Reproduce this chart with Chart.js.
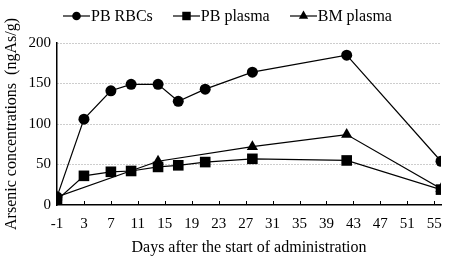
<!DOCTYPE html>
<html>
<head>
<meta charset="utf-8">
<script src="https://cdn.jsdelivr.net/npm/chart.js@4.4.0/dist/chart.umd.min.js"></script>
<style>
  html, body { margin: 0; padding: 0; background: #fff; }
  #wrap { position: relative; width: 452px; height: 260px; }
  #legend {
    position: absolute; top: 7px; left: 63px; display: flex; align-items: center;
    font-family: "Liberation Serif", "Times New Roman", serif; font-size: 16px;
    color: #000; white-space: nowrap;
  }
  .item { display: flex; align-items: center; margin-right: 20px; }
  .item canvas { margin-right: 1px; }
</style>
</head>
<body>
<div id="wrap">
  <canvas id="chart" width="452" height="260"></canvas>
  <div id="legend"></div>
</div>
<script>
// data
const seriesNames = ["PB RBCs", "PB plasma", "BM plasma"];
const pointStyles = ["circle", "rect", "triangle"];

const rbcDays = [-1, 3, 7, 10, 14, 17, 21, 28, 42, 56];
const rbcValues = [10, 106, 141, 149, 149, 128, 143, 164, 185, 54];

const plasmaDays = [-1, 3, 7, 10, 14, 17, 21, 28, 42, 56];
const plasmaValues = [6, 36, 41, 42, 47, 49, 53, 57, 55, 19];

const bmDays = [-1, 14, 28, 42, 56];
const bmValues = [10, 54, 72, 87, 20];

const xTicks = [-1, 3, 7, 11, 15, 19, 23, 27, 31, 35, 39, 43, 47, 51, 55];
const yTicks = [0, 50, 100, 150, 200];

const FONT = "'Liberation Serif', 'Times New Roman', serif";
const radii = { circle: 5.5, rect: 7.5, triangle: 6.5 };
const legendRadii = { circle: 4.3, rect: 6, triangle: 5.4 };

function toPoints(xs, ys) {
  return xs.map((x, i) => ({ x: x, y: ys[i] }));
}

function makeDataset(label, xs, ys, style, order) {
  return {
    label: label,
    data: toPoints(xs, ys),
    borderColor: "#000",
    backgroundColor: "#000",
    borderWidth: 1.2,
    pointStyle: style,
    pointRadius: radii[style],
    pointBorderWidth: 0,
    tension: 0,
    order: order,
  };
}

// little inward tick marks on the x axis
const innerTicks = {
  id: "innerTicks",
  afterDraw(chart) {
    const sx = chart.scales.x;
    const ctx = chart.ctx;
    ctx.save();
    ctx.strokeStyle = "#000";
    ctx.lineWidth = 1;
    sx.ticks.forEach((t, i) => {
      const px = Math.round(sx.getPixelForTick(i)) + 0.5;
      ctx.beginPath();
      ctx.moveTo(px, chart.chartArea.bottom);
      ctx.lineTo(px, chart.chartArea.bottom - 4);
      ctx.stroke();
    });
    ctx.restore();
  },
};

new Chart(document.getElementById("chart"), {
  type: "line",
  data: {
    datasets: [
      makeDataset(seriesNames[0], rbcDays, rbcValues, pointStyles[0], 3),
      makeDataset(seriesNames[1], plasmaDays, plasmaValues, pointStyles[1], 1),
      makeDataset(seriesNames[2], bmDays, bmValues, pointStyles[2], 2),
    ],
  },
  options: {
    responsive: false,
    animation: false,
    layout: { padding: { top: 43, right: 11, left: 0, bottom: 0 } },
    plugins: {
      legend: { display: false },
      tooltip: { enabled: false },
    },
    scales: {
      x: {
        type: "linear",
        min: -1,
        max: 56,
        afterBuildTicks(scale) {
          scale.ticks = xTicks.map((v) => ({ value: v }));
        },
        afterFit(scale) { scale.height = 55; },
        grid: { display: false, drawTicks: false },
        border: { display: true, color: "#000", width: 1.5 },
        ticks: {
          color: "#000",
          padding: 10,
          maxRotation: 0,
          autoSkip: false,
          font: { family: FONT, size: 15 },
        },
        title: {
          display: true,
          text: "Days after the start of administration",
          color: "#000",
          padding: { top: 4, bottom: 3 },
          font: { family: FONT, size: 16 },
        },
      },
      y: {
        min: 0,
        max: 200,
        afterBuildTicks(scale) {
          scale.ticks = yTicks.map((v) => ({ value: v }));
        },
        afterFit(scale) { scale.width = 57; },
        grid: {
          drawTicks: false,
          color: (c) => (c.tick && c.tick.value === 0 ? "rgba(0,0,0,0)" : "#9a9a9a"),
          lineWidth: 1,
        },
        border: { display: true, color: "#000", width: 1.5, dash: [1, 2] },
        ticks: {
          color: "#000",
          padding: 6,
          font: { family: FONT, size: 15 },
        },
        title: {
          display: true,
          text: "Arsenic concentrations  (ngAs/g)",
          color: "#000",
          padding: { top: 2, bottom: 4 },
          font: { family: FONT, size: 16 },
        },
      },
    },
  },
  plugins: [innerTicks],
});

// legend: line with marker, then label
const legend = document.getElementById("legend");
seriesNames.forEach((name, i) => {
  const item = document.createElement("div");
  item.className = "item";
  const c = document.createElement("canvas");
  c.width = 27;
  c.height = 14;
  const g = c.getContext("2d");
  g.strokeStyle = "#000";
  g.lineWidth = 1.2;
  g.beginPath();
  g.moveTo(0, 7);
  g.lineTo(27, 7);
  g.stroke();
  g.fillStyle = "#000";
  const st = pointStyles[i];
  Chart.helpers.drawPoint(g, { pointStyle: st, radius: legendRadii[st], borderWidth: 0 }, 13.5, 7);
  item.appendChild(c);
  const s = document.createElement("span");
  s.textContent = name;
  item.appendChild(s);
  legend.appendChild(item);
});
</script>
</body>
</html>
